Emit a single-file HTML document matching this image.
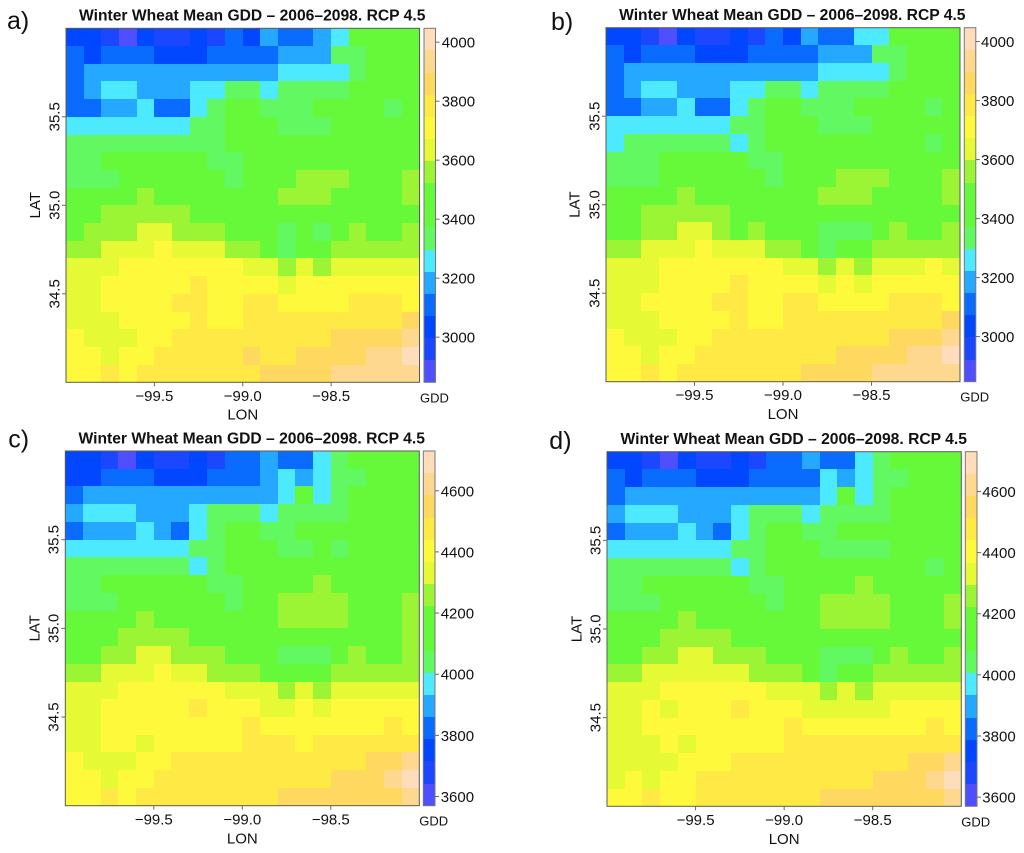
<!DOCTYPE html>
<html lang="en">
<head>
<meta charset="utf-8">
<title>Winter Wheat Mean GDD</title>
<style>
html,body{margin:0;padding:0;background:#fff;}
svg{display:block;font-family:"Liberation Sans",Arial,sans-serif;fill:#111;}
</style>
</head>
<body>
<svg id="figure" xmlns="http://www.w3.org/2000/svg" width="1024" height="853" viewBox="0 0 1024 853"></svg>
<script>
const lonTicks = [-99.5, -99.0, -98.5];
const latTicks = [35.5, 35.0, 34.5];
const gddTicksTop = [3000, 3200, 3400, 3600, 3800, 4000];
const gddTicksBottom = [3600, 3800, 4000, 4200, 4400, 4600];
const gddDomainTop = [2847, 4047];
const gddDomainBottom = [3570, 4730];
const lonDomain = [-100, -98];
const latDomain = [34, 36];
const colorLevels = ['#4f4fff','#1a47ff','#0047ff','#0a6cff','#25a8ff','#4ce9ff','#62f862','#65f93c','#66f93a','#9bf535','#e5f935','#fff93c','#ffe945','#ffd95f','#ffd88f','#ffdcba'];

const gridA = [
[3035,3035,2960,2885,3035,2960,2960,3035,2960,3110,3035,3185,3110,3110,3185,3260,3485,3485,3485,3485],
[3110,3035,3110,3110,3110,3035,3035,3035,3110,3110,3110,3110,3185,3185,3185,3335,3335,3485,3485,3485],
[3110,3185,3185,3185,3185,3185,3185,3185,3185,3185,3185,3185,3260,3260,3260,3260,3335,3485,3485,3485],
[3110,3185,3260,3260,3185,3185,3185,3260,3260,3335,3335,3260,3335,3335,3335,3335,3485,3485,3485,3485],
[3110,3110,3185,3185,3260,3110,3110,3260,3335,3485,3485,3335,3335,3335,3485,3485,3485,3485,3335,3485],
[3260,3260,3260,3260,3260,3260,3260,3335,3335,3485,3485,3485,3335,3335,3335,3485,3485,3485,3485,3485],
[3335,3335,3335,3335,3335,3335,3335,3335,3335,3485,3485,3485,3485,3485,3485,3485,3485,3485,3485,3485],
[3335,3335,3485,3485,3485,3485,3485,3485,3335,3335,3485,3485,3485,3485,3485,3485,3485,3485,3485,3485],
[3335,3335,3335,3485,3485,3485,3485,3485,3485,3335,3485,3485,3485,3560,3560,3560,3485,3485,3485,3560],
[3485,3485,3485,3485,3560,3485,3485,3485,3485,3485,3485,3485,3560,3560,3560,3485,3485,3485,3485,3560],
[3485,3485,3560,3560,3560,3560,3560,3485,3485,3485,3485,3485,3485,3485,3485,3485,3485,3485,3485,3485],
[3485,3560,3560,3560,3635,3635,3560,3560,3560,3485,3485,3485,3335,3485,3335,3485,3560,3485,3485,3560],
[3560,3560,3635,3635,3635,3710,3635,3635,3635,3560,3560,3485,3335,3485,3485,3560,3560,3560,3560,3560],
[3635,3635,3635,3710,3710,3710,3710,3710,3710,3710,3635,3635,3560,3635,3560,3635,3635,3635,3635,3635],
[3635,3635,3710,3710,3710,3710,3710,3785,3710,3710,3710,3710,3635,3710,3710,3710,3710,3710,3710,3710],
[3635,3635,3710,3710,3710,3710,3785,3785,3710,3710,3785,3785,3710,3710,3710,3710,3785,3785,3785,3710],
[3635,3635,3635,3710,3710,3710,3710,3785,3710,3710,3785,3785,3785,3785,3785,3785,3785,3785,3785,3860],
[3710,3635,3635,3635,3710,3710,3785,3785,3785,3785,3785,3785,3785,3785,3785,3860,3860,3860,3860,3935],
[3710,3710,3635,3710,3710,3785,3785,3785,3785,3785,3860,3785,3785,3860,3860,3860,3860,3935,3935,4010],
[3710,3710,3785,3710,3785,3785,3785,3785,3785,3785,3785,3860,3860,3860,3860,3935,3935,3935,3935,3935]
];

const gridB = [
[3035,3035,2960,2885,3035,2960,2960,3035,2960,3110,3035,3185,3110,3110,3260,3260,3485,3485,3485,3485],
[3110,3035,3110,3110,3110,3035,3035,3035,3110,3110,3110,3110,3185,3185,3185,3335,3335,3485,3485,3485],
[3110,3185,3185,3185,3185,3185,3185,3185,3185,3185,3185,3185,3260,3260,3260,3260,3335,3485,3485,3485],
[3110,3185,3260,3260,3185,3185,3185,3260,3260,3335,3335,3260,3335,3335,3335,3335,3485,3485,3485,3485],
[3110,3110,3185,3185,3260,3110,3110,3260,3335,3485,3485,3335,3335,3335,3485,3485,3485,3485,3335,3485],
[3260,3260,3260,3260,3260,3260,3260,3335,3335,3485,3485,3485,3335,3335,3335,3485,3485,3485,3485,3485],
[3260,3335,3335,3335,3335,3335,3335,3260,3335,3485,3485,3485,3485,3485,3485,3485,3485,3485,3335,3485],
[3335,3335,3335,3485,3485,3485,3485,3485,3335,3335,3485,3485,3485,3485,3485,3485,3485,3485,3485,3485],
[3335,3335,3335,3485,3485,3485,3485,3485,3485,3335,3485,3485,3485,3560,3560,3560,3485,3485,3485,3560],
[3485,3485,3485,3485,3560,3485,3485,3485,3485,3485,3485,3485,3560,3560,3560,3485,3485,3485,3485,3560],
[3485,3485,3560,3560,3560,3560,3560,3485,3485,3485,3485,3485,3485,3485,3485,3485,3485,3485,3485,3485],
[3485,3485,3560,3560,3635,3635,3560,3485,3560,3485,3485,3485,3335,3335,3335,3485,3560,3485,3485,3560],
[3560,3560,3635,3635,3635,3710,3635,3635,3635,3560,3560,3485,3335,3485,3485,3560,3560,3560,3560,3560],
[3635,3635,3635,3710,3710,3710,3710,3710,3710,3710,3635,3635,3560,3635,3560,3635,3635,3635,3710,3635],
[3635,3635,3635,3710,3710,3710,3710,3785,3710,3710,3710,3710,3635,3710,3635,3710,3710,3710,3710,3710],
[3635,3635,3710,3710,3710,3710,3785,3785,3710,3710,3785,3785,3710,3710,3710,3710,3785,3785,3785,3710],
[3635,3635,3635,3710,3710,3710,3710,3785,3710,3710,3785,3785,3785,3785,3785,3785,3785,3785,3785,3860],
[3710,3635,3635,3635,3710,3710,3785,3785,3785,3785,3785,3785,3785,3785,3785,3785,3860,3860,3860,3935],
[3710,3710,3635,3710,3710,3785,3785,3785,3785,3785,3785,3785,3785,3860,3860,3860,3860,3935,3935,4010],
[3710,3710,3785,3710,3785,3785,3785,3785,3785,3785,3785,3860,3860,3860,3860,3935,3935,3935,3935,3935]
];

const gridC = [
[3751,3751,3679,3606,3751,3679,3679,3751,3679,3824,3824,3896,3824,3824,3969,4041,4186,4186,4186,4186],
[3751,3751,3824,3824,3824,3751,3751,3751,3824,3824,3824,3896,3969,3896,3969,4041,4041,4186,4186,4186],
[3824,3896,3896,3896,3896,3896,3896,3896,3896,3896,3896,3896,3969,4186,3969,4041,4186,4186,4186,4186],
[3896,3969,3969,3969,3896,3896,3896,3969,4041,4041,4041,3969,4041,4041,4041,4041,4186,4186,4186,4186],
[3824,3896,3896,3896,3969,3896,3824,3969,4041,4186,4186,4041,4041,4186,4186,4186,4186,4186,4186,4186],
[3969,3969,3969,3969,3969,3969,3969,4041,4041,4186,4186,4186,4041,4041,4186,4041,4186,4186,4186,4186],
[4041,4041,4041,4041,4041,4041,4041,3969,4041,4186,4186,4186,4186,4186,4186,4186,4186,4186,4186,4186],
[4041,4041,4186,4186,4186,4186,4186,4186,4041,4041,4186,4186,4186,4186,4259,4186,4186,4186,4186,4186],
[4041,4041,4041,4186,4186,4186,4186,4186,4186,4041,4186,4186,4259,4259,4259,4259,4186,4186,4186,4259],
[4186,4186,4186,4186,4259,4186,4186,4186,4186,4186,4186,4186,4259,4259,4259,4259,4186,4186,4186,4259],
[4186,4186,4186,4259,4259,4259,4259,4186,4186,4186,4186,4186,4186,4186,4186,4186,4186,4186,4186,4259],
[4186,4186,4259,4259,4331,4331,4259,4259,4259,4186,4186,4186,4041,4041,4041,4186,4259,4186,4186,4259],
[4259,4259,4331,4331,4331,4404,4331,4331,4259,4259,4259,4186,4186,4186,4186,4259,4259,4259,4259,4259],
[4331,4331,4331,4404,4404,4404,4404,4404,4404,4331,4331,4331,4259,4331,4259,4331,4331,4331,4331,4331],
[4331,4331,4404,4404,4404,4404,4404,4476,4404,4404,4404,4331,4331,4404,4331,4404,4404,4404,4404,4404],
[4331,4331,4404,4404,4404,4404,4404,4404,4404,4404,4476,4404,4404,4404,4404,4404,4404,4404,4476,4404],
[4331,4331,4404,4404,4331,4404,4404,4404,4404,4404,4476,4476,4476,4404,4476,4476,4476,4476,4476,4476],
[4404,4331,4331,4331,4404,4404,4476,4476,4476,4476,4476,4476,4476,4476,4476,4476,4476,4549,4549,4621],
[4404,4404,4331,4404,4404,4476,4476,4476,4476,4476,4476,4476,4476,4476,4476,4549,4549,4549,4621,4694],
[4404,4404,4476,4404,4476,4476,4476,4476,4476,4476,4476,4476,4549,4549,4549,4549,4549,4549,4549,4621]
];

const gridD = [
[3751,3751,3679,3606,3751,3679,3679,3751,3679,3824,3824,3896,3824,3824,3969,4041,4186,4186,4186,4186],
[3824,3751,3824,3824,3824,3751,3751,3751,3824,3824,3824,3824,3969,3896,3969,4041,4041,4186,4186,4186],
[3824,3896,3896,3896,3896,3896,3896,3896,3896,3896,3896,3896,3969,4186,3969,4041,4186,4186,4186,4186],
[3896,3969,3969,3969,3896,3896,3896,3969,4041,4041,4041,3969,4041,4041,4041,4041,4186,4186,4186,4186],
[3824,3896,3896,3896,3969,3896,3824,3969,4041,4186,4186,4041,4041,4186,4186,4186,4186,4186,4186,4186],
[3969,3969,3969,3969,3969,3969,3969,4041,4041,4186,4186,4186,4041,4041,4041,4041,4186,4186,4186,4186],
[4041,4041,4041,4041,4041,4041,4041,3969,4041,4186,4186,4186,4186,4186,4186,4186,4186,4186,4041,4186],
[4041,4041,4186,4186,4186,4186,4186,4186,4041,4041,4186,4186,4186,4186,4259,4186,4186,4186,4186,4186],
[4041,4041,4041,4186,4186,4186,4186,4186,4186,4041,4186,4186,4259,4259,4259,4259,4186,4186,4186,4259],
[4186,4186,4186,4186,4259,4186,4186,4186,4186,4186,4186,4186,4259,4259,4259,4259,4186,4186,4186,4259],
[4186,4186,4186,4259,4259,4259,4259,4186,4186,4186,4186,4186,4186,4186,4186,4186,4186,4186,4186,4186],
[4186,4186,4259,4259,4331,4331,4259,4259,4259,4186,4186,4186,4041,4041,4041,4186,4259,4186,4186,4259],
[4259,4259,4331,4331,4331,4331,4331,4331,4259,4259,4259,4186,4041,4186,4186,4259,4259,4259,4259,4259],
[4331,4331,4331,4404,4404,4404,4404,4404,4404,4331,4331,4331,4259,4331,4259,4331,4331,4331,4331,4331],
[4331,4331,4404,4331,4404,4404,4404,4476,4404,4404,4404,4331,4331,4331,4331,4331,4404,4404,4404,4404],
[4331,4331,4404,4404,4404,4404,4404,4404,4404,4404,4476,4404,4404,4404,4404,4404,4404,4404,4476,4404],
[4331,4331,4331,4404,4331,4404,4404,4404,4404,4404,4476,4476,4476,4476,4476,4476,4476,4476,4476,4476],
[4331,4331,4331,4331,4404,4404,4404,4476,4476,4476,4476,4476,4476,4476,4476,4476,4476,4549,4549,4621],
[4331,4404,4331,4404,4404,4476,4476,4476,4476,4476,4476,4476,4476,4476,4476,4549,4549,4549,4621,4694],
[4404,4404,4476,4404,4404,4476,4476,4476,4476,4476,4476,4476,4549,4549,4549,4549,4549,4549,4549,4621]
];

const SVG_NS = 'http://www.w3.org/2000/svg';
const figure = document.getElementById('figure');

function makeEl(parent, tag, attrs, text) {
  const el = document.createElementNS(SVG_NS, tag);
  for (const k in attrs) el.setAttribute(k, attrs[k]);
  if (text !== undefined) el.textContent = text;
  parent.appendChild(el);
  return el;
}
function linearScale(d0, d1, r0, r1) {
  return function (v) { return r0 + (v - d0) / (d1 - d0) * (r1 - r0); };
}
function levelColor(v, domain) {
  const n = colorLevels.length;
  const t = Math.floor((v - domain[0]) / (domain[1] - domain[0]) * n);
  return colorLevels[Math.max(0, Math.min(n - 1, t))];
}
function fmtLon(v) { return '\u2212' + Math.abs(v).toFixed(1); }

function drawPanel(p) {
  const g = makeEl(figure, 'g', {});
  
  

  const xS = linearScale(lonDomain[0], lonDomain[1], p.left, p.right);
  const yS = linearScale(latDomain[0], latDomain[1], p.bottom, p.top);

  const label = makeEl(g, 'text', { x: p.letterX, y: p.letterY, 'font-size': 25 }, p.letter + ')');
  
  

  const title = makeEl(g, 'text', { x: p.titleX, y: p.titleY, 'font-size': 15.65, 'font-weight': 'bold', 'text-anchor': 'middle' }, 'Winter Wheat Mean GDD \u2013 2006\u20132098. RCP 4.5');
  
  

  const cells = makeEl(g, 'g', { 'shape-rendering': 'crispEdges' });
  
  
  const rows = p.grid.length;
  p.grid.forEach(function (row, i) {
    row.forEach(function (v, j) {
      const lonW = lonDomain[0] + j * (lonDomain[1] - lonDomain[0]) / row.length;
      const lonE = lonDomain[0] + (j + 1) * (lonDomain[1] - lonDomain[0]) / row.length;
      const latN = latDomain[1] - i * (latDomain[1] - latDomain[0]) / rows;
      const latS = latDomain[1] - (i + 1) * (latDomain[1] - latDomain[0]) / rows;
      const x0 = Math.round(xS(lonW)), x1 = Math.round(xS(lonE));
      const y0 = Math.round(yS(latN)), y1 = Math.round(yS(latS));
      const cell = makeEl(cells, 'rect', { x: x0, y: y0, width: x1 - x0, height: y1 - y0, fill: levelColor(v, p.domain) });
      
      
    });
  });

  const frame = makeEl(g, 'rect', { x: p.left, y: p.top, width: p.right - p.left, height: p.bottom - p.top, fill: 'none', stroke: '#5a5a55', 'stroke-width': 1 });
  
  

  lonTicks.forEach(function (lon) {
    const x = xS(lon);
    const tick = makeEl(g, 'line', { x1: x, x2: x, y1: p.bottom, y2: p.bottom + 4, stroke: '#666', 'stroke-width': 1 });
    
    
    const t = makeEl(g, 'text', { x: x, y: p.xLabelY, 'font-size': 15, 'text-anchor': 'middle' }, fmtLon(lon));
    
    
  });
  const xTitle = makeEl(g, 'text', { x: xS(-99), y: p.xTitleY, 'font-size': 15, 'text-anchor': 'middle' }, 'LON');
  
  

  latTicks.forEach(function (lat) {
    const y = yS(lat);
    const tick = makeEl(g, 'line', { x1: p.left - 4, x2: p.left, y1: y, y2: y, stroke: '#666', 'stroke-width': 1 });
    
    
    const t = makeEl(g, 'text', { x: 0, y: 0, 'font-size': 15, 'text-anchor': 'middle', transform: 'translate(' + p.yLabelX + ',' + y + ') rotate(-90)' }, lat.toFixed(1));
    
    
  });
  const yTitle = makeEl(g, 'text', { x: 0, y: 0, 'font-size': 15, 'text-anchor': 'middle', transform: 'translate(' + p.yTitleX + ',' + yS(35) + ') rotate(-90)' }, 'LAT');
  
  

  const barY = linearScale(p.domain[0], p.domain[1], p.bottom, p.top);
  const bar = makeEl(g, 'g', { 'shape-rendering': 'crispEdges' });
  
  
  const step = (p.domain[1] - p.domain[0]) / colorLevels.length;
  colorLevels.forEach(function (c, k) {
    const y0 = Math.round(barY(p.domain[0] + (k + 1) * step));
    const y1 = Math.round(barY(p.domain[0] + k * step));
    const seg = makeEl(bar, 'rect', { x: p.barX, y: y0, width: p.barW, height: y1 - y0, fill: c });
    
    
  });
  const barFrame = makeEl(g, 'rect', { x: p.barX, y: p.top, width: p.barW, height: p.bottom - p.top, fill: 'none', stroke: '#77777a', 'stroke-width': 1 });
  
  

  p.ticks.forEach(function (v) {
    const y = barY(v);
    const tick = makeEl(g, 'line', { x1: p.barX + p.barW, x2: p.barX + p.barW + 4, y1: y, y2: y, stroke: '#666', 'stroke-width': 1 });
    
    
    const t = makeEl(g, 'text', { x: p.barLabelX, y: y + 5.5, 'font-size': 15 }, String(v));
    
    
  });
  const unit = makeEl(g, 'text', { x: p.unitX, y: p.unitY, 'font-size': 13, 'text-anchor': 'middle' }, 'GDD');
  
  
}

drawPanel({ letter: 'a', grid: gridA, domain: gddDomainTop, ticks: gddTicksTop,
  left: 66, right: 419.5, top: 28.3, bottom: 382.3,
  letterX: 7, letterY: 29, titleX: 252.2, titleY: 20.5,
  xLabelY: 401, xTitleY: 419.3, yLabelX: 59.5, yTitleX: 40,
  barX: 424, barW: 11.5, barLabelX: 441.7, unitX: 434.5, unitY: 402.3 });
drawPanel({ letter: 'b', grid: gridB, domain: gddDomainTop, ticks: gddTicksTop,
  left: 606, right: 960, top: 27.7, bottom: 381.7,
  letterX: 551, letterY: 30, titleX: 792.3, titleY: 20,
  xLabelY: 400, xTitleY: 419, yLabelX: 599.3, yTitleX: 579.7,
  barX: 964.3, barW: 11.5, barLabelX: 981, unitX: 974.7, unitY: 401.7 });
drawPanel({ letter: 'c', grid: gridC, domain: gddDomainBottom, ticks: gddTicksBottom,
  left: 65.3, right: 419.3, top: 451, bottom: 805.7,
  letterX: 8.3, letterY: 447.7, titleX: 251.7, titleY: 443.3,
  xLabelY: 824.3, xTitleY: 843.3, yLabelX: 58.5, yTitleX: 39.5,
  barX: 423.3, barW: 11.7, barLabelX: 440.7, unitX: 433.7, unitY: 825.7 });
drawPanel({ letter: 'd', grid: gridD, domain: gddDomainBottom, ticks: gddTicksBottom,
  left: 607, right: 961.3, top: 451.7, bottom: 806.3,
  letterX: 549.3, letterY: 449, titleX: 793.7, titleY: 444,
  xLabelY: 825, xTitleY: 844, yLabelX: 600.3, yTitleX: 581.3,
  barX: 965.3, barW: 11.7, barLabelX: 982.3, unitX: 975.7, unitY: 826.3 });
</script>
</body>
</html>
